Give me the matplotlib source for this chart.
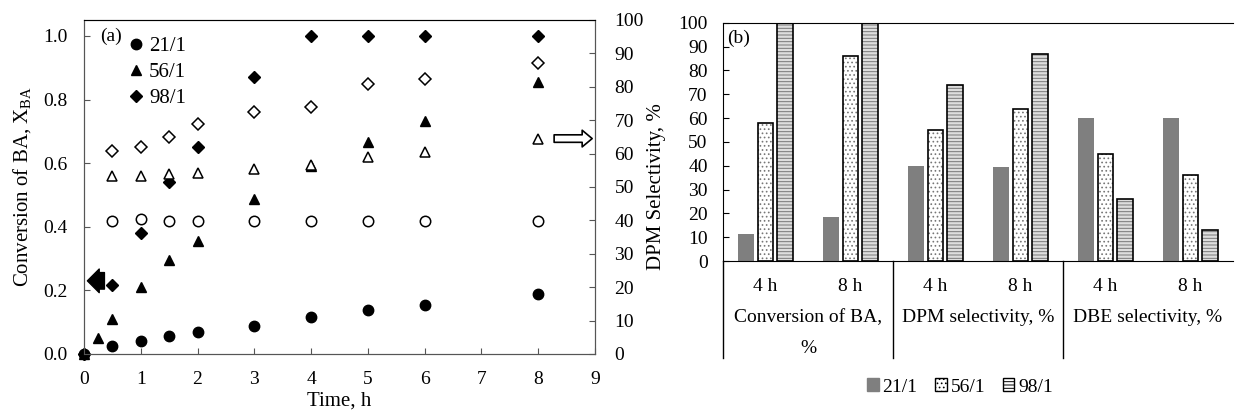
import matplotlib
matplotlib.use('Agg')
from matplotlib import pyplot as plt
from matplotlib.patches import Patch
from matplotlib.lines import Line2D
import numpy as np

plt.rcParams['font.family'] = 'Liberation Serif'
plt.rcParams['mathtext.default'] = 'regular'
plt.rcParams['hatch.linewidth'] = 0.7
fs = 14

# ---- (a) conversion (filled, left axis) and DPM selectivity (open, right axis)
t_21 = [0, 0.5, 1, 1.5, 2, 3, 4, 5, 6, 8]
conv_21 = [0.0, 0.024, 0.040, 0.056, 0.068, 0.087, 0.115, 0.138, 0.153, 0.190]
t_56 = [0, 0.25, 0.5, 1, 1.5, 2, 3, 4, 5, 6, 8]
conv_56 = [0.0, 0.050, 0.111, 0.211, 0.297, 0.356, 0.486, 0.592, 0.667, 0.733, 0.856]
t_98 = [0, 0.5, 1, 1.5, 2, 3, 4, 5, 6, 8]
conv_98 = [0.0, 0.218, 0.379, 0.541, 0.652, 0.872, 1.0, 1.0, 1.0, 1.0]

t_sel = [0.5, 1, 1.5, 2, 3, 4, 5, 6, 8]
sel_21 = [39.8, 40.3, 39.8, 39.8, 39.8, 39.8, 39.8, 39.8, 39.8]
sel_56 = [53.3, 53.3, 53.8, 54.1, 55.3, 56.5, 58.9, 60.5, 64.5]
sel_98 = [60.8, 61.9, 65.0, 68.8, 72.4, 74.0, 80.8, 82.2, 87.2]

# ---- (b) bars
cats = ['4 h', '8 h', '4 h', '8 h', '4 h', '8 h']
groups = ['Conversion of BA,\n%', 'DPM selectivity, %', 'DBE selectivity, %']
bar_21 = [11.2, 18.6, 39.7, 39.6, 60.0, 60.0]
bar_56 = [58.0, 86.0, 55.0, 63.9, 44.9, 36.1]
bar_98 = [100, 100, 73.9, 86.9, 25.9, 13.0]

fig = plt.figure(figsize=(12.35, 4.16), dpi=100)

# left panel
ax = fig.add_axes([84/1235, 1-354/416, 511/1235, 334/416])
ax2 = ax.twinx()
ms = 7.5
ax.plot(t_21, conv_21, 'o', color='k', ms=ms, label='21/1', clip_on=False, zorder=3)
ax.plot(t_56, conv_56, '^', color='k', ms=ms, label='56/1', clip_on=False, zorder=3)
ax.plot(t_98, conv_98, 'D', color='k', ms=6, label='98/1', clip_on=False, zorder=3)
ax2.plot(t_sel, sel_21, 'o', mfc='white', mec='k', mew=1.1, ms=ms)
ax2.plot(t_sel, sel_56, '^', mfc='white', mec='k', mew=1.1, ms=ms)
ax2.plot(t_sel, sel_98, 'D', mfc='white', mec='k', mew=1.1, ms=6)

ax.set_xlim(0, 9)
ax.set_ylim(0, 1.05)
ax2.set_ylim(0, 100)
ax.set_xticks(range(10))
ax.set_yticks(np.arange(0, 1.01, 0.2))
ax.set_yticklabels(['0.0', '0.2', '0.4', '0.6', '0.8', '1.0'])
ax2.set_yticks(range(0, 101, 10))
ax.tick_params(direction='in', labelsize=fs, length=4, color='#555555', pad=12)
ax2.tick_params(direction='in', labelsize=fs, length=4, color='#555555', pad=14)
ax.set_xlabel('Time, h', fontsize=fs + 1)
ax.set_ylabel('Conversion of BA, X$_{BA}$', fontsize=fs + 1)
ax2.set_ylabel('DPM Selectivity, %', fontsize=fs + 1)
ax.xaxis.set_label_coords(0.5, -0.112)
ax.yaxis.set_label_coords(-0.10, 0.5)
ax2.yaxis.set_label_coords(1.102, 0.5)
for a in (ax, ax2):
    for s in a.spines.values():
        s.set_color('#555555')
ax2.spines['top'].set_color('k')

ax.legend(loc='upper left', bbox_to_anchor=(0.07, 0.975), frameon=False, fontsize=fs + 1,
          handlelength=0.8, handletextpad=0.2, labelspacing=0.3, borderaxespad=0)
ax.text(0.28, 1.0, '(a)', fontsize=fs, va='center', ha='left')

ax.annotate('', xy=(0.06, 0.23), xytext=(0.36, 0.23),
            arrowprops=dict(arrowstyle='simple,head_width=1.0,head_length=0.5,tail_width=0.7',
                            fc='k', ec='k', mutation_scale=17, shrinkA=0, shrinkB=0))
ax2.annotate('', xy=(8.95, 64.5), xytext=(8.28, 64.5),
             arrowprops=dict(arrowstyle='simple,head_width=1.0,head_length=0.6,tail_width=0.45',
                             fc='white', ec='k', lw=1.2, mutation_scale=12, shrinkA=0, shrinkB=0))

# right panel
bx = fig.add_axes([723/1235, 1-261/416, 510/1235, 238.3/416])
x = np.arange(len(cats))
w = 0.18
off = 0.23
bx.bar(x - off, bar_21, w, color='#7f7f7f', label='21/1')
bx.bar(x, bar_56, w, color='white', edgecolor='#777777', hatch='....', lw=0)
bx.bar(x, bar_56, w, fill=False, edgecolor='k', lw=1.2)
bx.bar(x + off, bar_98, w, color='#dddddd', edgecolor='#777777', hatch='-----', lw=0)
bx.bar(x + off, bar_98, w, fill=False, edgecolor='k', lw=1.2)

bx.set_xlim(-0.5, 5.5)
bx.set_ylim(0, 100)
bx.set_yticks(range(0, 101, 10))
bx.set_xticks(x)
bx.set_xticklabels(cats, fontsize=fs)
bx.tick_params(axis='x', length=0, pad=12)
bx.tick_params(axis='y', direction='in', labelsize=fs, length=4, pad=11)
bx.spines['right'].set_visible(False)
bx.text(-0.45, 97, '(b)', fontsize=fs, va='top')

trans = bx.get_xaxis_transform()
for i, g in enumerate(groups):
    bx.text(2*i + 0.5, -0.2, g, transform=trans, ha='center', va='top', fontsize=fs,
            linespacing=2.1)
for xs in [-0.5, 1.5, 3.5]:
    bx.add_line(Line2D([xs, xs], [0, -0.405], transform=trans, color='k', lw=1, clip_on=False))

handles = [Patch(facecolor='#7f7f7f', edgecolor='#7f7f7f'),
           Patch(facecolor='white', edgecolor='k', hatch='....'),
           Patch(facecolor='white', edgecolor='k', hatch='-----')]
fig.legend(handles, ['21/1', '56/1', '98/1'], loc='center', bbox_to_anchor=(960/1235, 1-387/416),
           ncol=3, frameon=False, fontsize=fs, handlelength=0.6, handleheight=0.6,
           handletextpad=0.2, columnspacing=0.9)

plt.savefig('out.png', dpi=100)
